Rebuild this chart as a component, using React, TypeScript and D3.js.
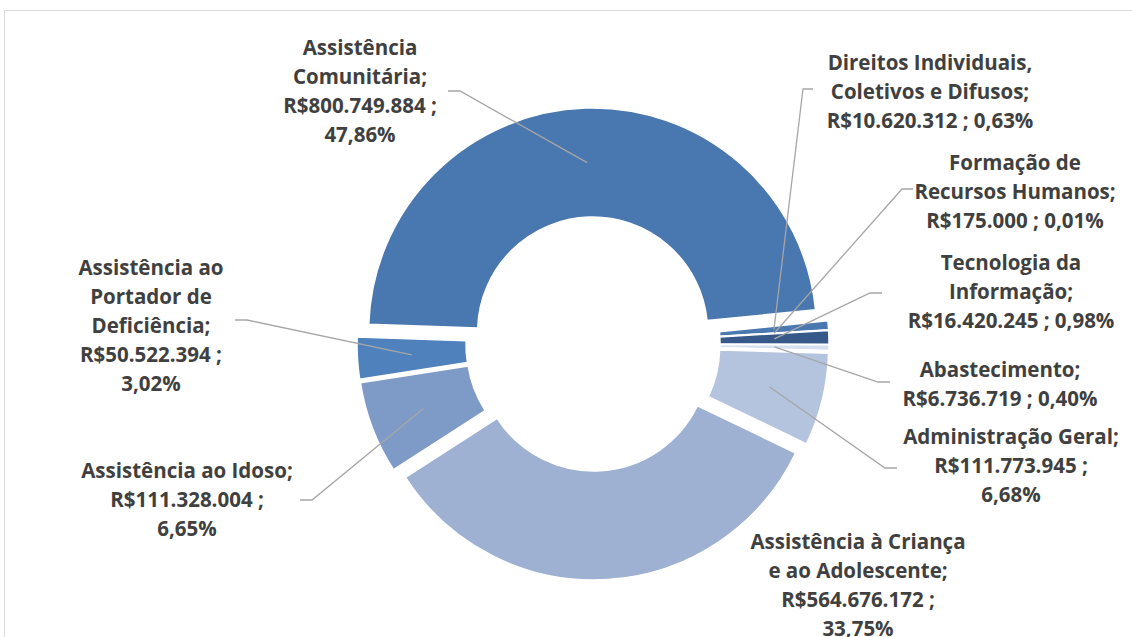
import * as d3 from "d3";

// categories in the clockwise order of the chart
const categories = [
  "Assistência Comunitária",
  "Direitos Individuais, Coletivos e Difusos",
  "Formação de Recursos Humanos",
  "Tecnologia da Informação",
  "Abastecimento",
  "Administração Geral",
  "Assistência à Criança e ao Adolescente",
  "Assistência ao Idoso",
  "Assistência ao Portador de Deficiência",
];
const values = [800749884, 10620312, 175000, 16420245, 6736719, 111773945, 564676172, 111328004, 50522394];
const colors = ["#4977af", "#4a78b0", "#5a83b8", "#36598a", "#d5dff0", "#b4c4df", "#9eb1d2", "#7e9bc8", "#4f81bd"];

// how each label is wrapped
const nameLines = [
  ["Assistência", "Comunitária;"],
  ["Direitos Individuais,", "Coletivos e Difusos;"],
  ["Formação de", "Recursos Humanos;"],
  ["Tecnologia da", "Informação;"],
  ["Abastecimento;"],
  ["Administração Geral;"],
  ["Assistência à Criança", "e ao Adolescente;"],
  ["Assistência ao Idoso;"],
  ["Assistência ao", "Portador de", "Deficiência;"],
];
const splitValue = [true, false, false, false, false, true, true, true, true];

// label placement: center x, first line center y, leader elbow, leader end
const labelPos = [
  { x: 360, y: 48, elbow: [460, 91], end: [448, 91] },
  { x: 930, y: 63, elbow: [803, 89], end: [813, 89] },
  { x: 1015, y: 163, elbow: [902, 189], end: [913, 189] },
  { x: 1011, y: 263, elbow: [870, 293], end: [882, 293] },
  { x: 1000, y: 370, elbow: [878, 382], end: [890, 382] },
  { x: 1011, y: 437, elbow: [885, 468], end: [897, 468] },
  { x: 858, y: 542, elbow: null, end: null },
  { x: 187, y: 471, elbow: [312, 500], end: [300, 500] },
  { x: 151, y: 268, elbow: [247, 320], end: [235, 320] },
];

const width = 1132;
const height = 637;
const cx = 593;
const cy = 344;
const outerR = 224;
const innerR = 115;
const explode = 12;
const lineH = 29;

const locale = d3.formatLocale({ decimal: ",", thousands: ".", grouping: [3], currency: ["R$", ""] });
const fmtMoney = locale.format("$,.0f");
const fmtPct = locale.format(".2%");

export default function App() {
  const total = d3.sum(values);
  const pie = d3
    .pie<number>()
    .sort(null)
    .startAngle((-88 * Math.PI) / 180)
    .endAngle((-88 * Math.PI) / 180 + 2 * Math.PI)
    .value((d) => d);
  const arcs = pie(values);
  const arc = d3.arc<d3.PieArcDatum<number>>().innerRadius(innerR).outerRadius(outerR);

  return (
    <svg width={width} height={height} style={{ position: "absolute", left: 0, top: 0 }}>
      <rect x={0} y={0} width={width} height={height} fill="#ffffff" />
      <rect x={4.5} y={10.5} width={width + 20} height={height + 20} fill="none" stroke="#d9d9d9" strokeWidth={1} />
      {arcs.map((a, i) => {
        const mid = (a.startAngle + a.endAngle) / 2;
        const ox = cx + explode * Math.sin(mid);
        const oy = cy - explode * Math.cos(mid);
        return (
          <path
            key={categories[i]}
            d={arc(a) || ""}
            transform={`translate(${ox},${oy})`}
            fill={colors[i]}
            stroke="#ffffff"
            strokeWidth={1.5}
          />
        );
      })}
      {arcs.map((a, i) => {
        const p = labelPos[i];
        if (!p.elbow || !p.end) return null;
        const mid = (a.startAngle + a.endAngle) / 2;
        const ox = cx + explode * Math.sin(mid);
        const oy = cy - explode * Math.cos(mid);
        const [c0, c1] = arc.centroid(a);
        const pts = [
          [ox + c0, oy + c1],
          p.elbow,
          p.end,
        ];
        return (
          <polyline
            key={"l" + i}
            points={pts.map((q) => q.join(",")).join(" ")}
            fill="none"
            stroke="#a6a6a6"
            strokeWidth={1.3}
          />
        );
      })}
      {values.map((v, i) => {
        const money = fmtMoney(v);
        const pct = fmtPct(v / total);
        const lines = splitValue[i]
          ? [...nameLines[i], money + " ;", pct]
          : [...nameLines[i], money + " ; " + pct];
        const p = labelPos[i];
        return (
          <text
            key={"t" + i}
            textAnchor="middle"
            fontFamily="'Open Sans', sans-serif"
            fontWeight="bold"
            fontSize={20.5}
            fill="#404040"
          >
            {lines.map((ln, j) => (
              <tspan key={j} x={p.x} y={p.y + j * lineH + 7}>
                {ln}
              </tspan>
            ))}
          </text>
        );
      })}
    </svg>
  );
}
